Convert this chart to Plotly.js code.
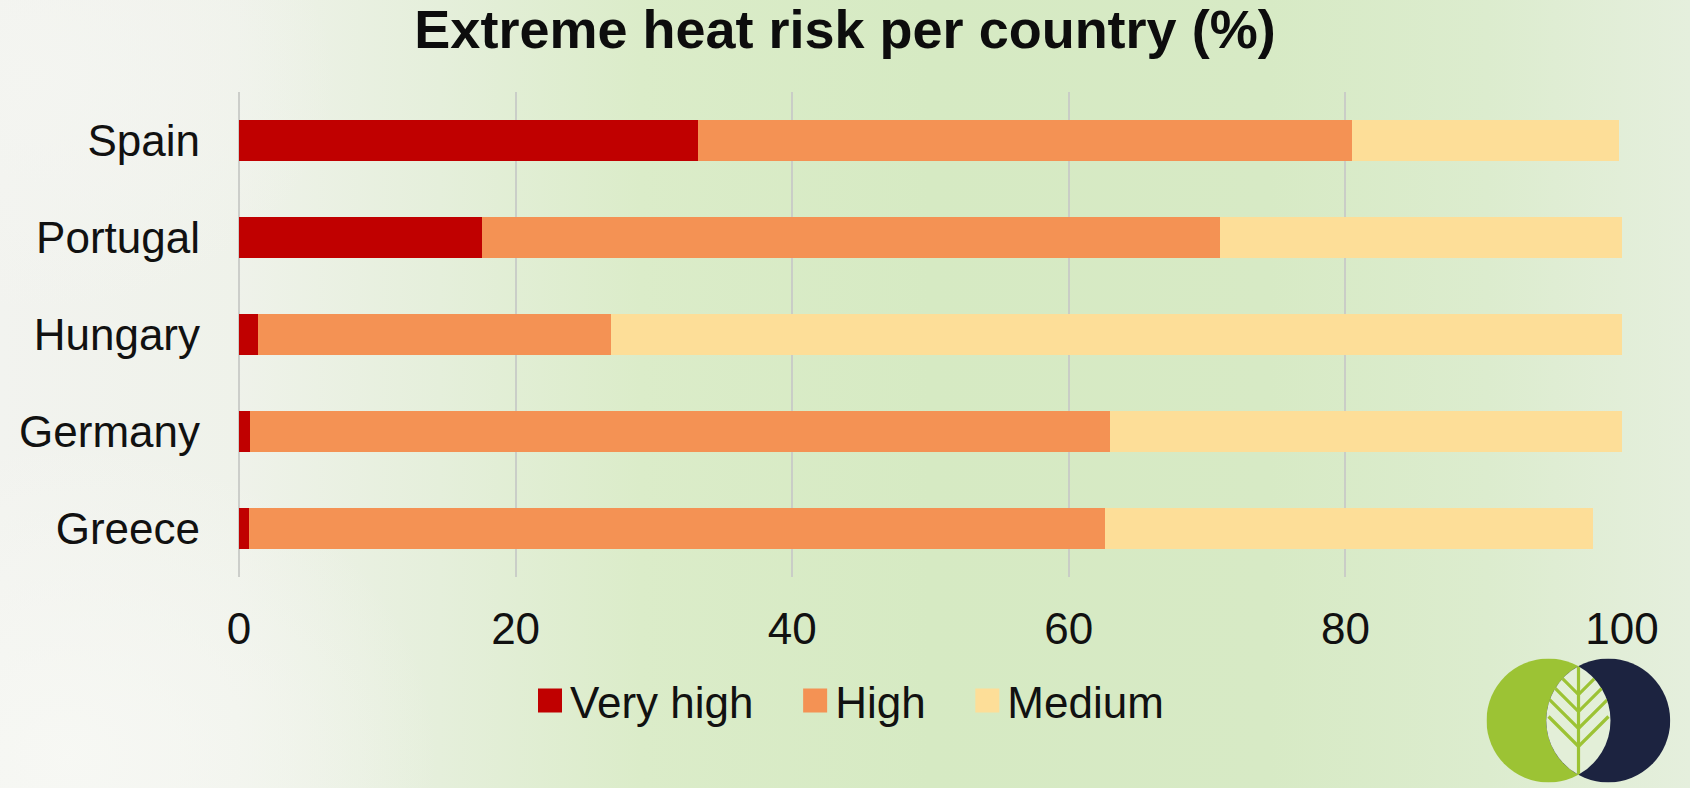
<!DOCTYPE html>
<html>
<head>
<meta charset="utf-8">
<script src="https://cdn.plot.ly/plotly-3.0.1.min.js"></script>
<style>
  html, body { margin: 0; padding: 0; }
  body {
    width: 1690px; height: 788px; overflow: hidden;
    background:
      radial-gradient(ellipse 22% 40% at 4% 96%, rgba(247,248,244,0.95) 0%, rgba(247,248,244,0) 100%),
      radial-gradient(ellipse 18% 30% at 2% 10%, rgba(244,245,241,0.9) 0%, rgba(244,245,241,0) 100%),
      linear-gradient(90deg, #f2f3ef 0%, #eff2ea 14%, #e5efdb 26%, #dbecc9 38%, #d6eac3 55%, #d7eac5 75%, #dcecce 88%, #e5efdd 100%);
  }
  #chart { width: 1690px; height: 788px; }
</style>
</head>
<body>
<div id="chart"></div>
<script>
const countries = ['Spain', 'Portugal', 'Hungary', 'Germany', 'Greece'];
const veryHigh = [33.2, 17.6, 1.4, 0.8, 0.7];
const high     = [47.3, 53.3, 25.5, 62.2, 61.9];
const medium   = [19.3, 29.1, 73.1, 37.0, 35.3];
const seriesNames = ['Very high', 'High', 'Medium'];
const xTicks = [0, 20, 40, 60, 80, 100];

const colors = ['#C00000', '#F49254', '#FDDE98'];
const nb = '\u00a0';

const traces = [veryHigh, high, medium].map((vals, i) => ({
  type: 'bar',
  orientation: 'h',
  y: countries,
  x: vals,
  name: seriesNames[i] + (i < 2 ? nb + nb + nb : ''),
  marker: { color: colors[i], line: { width: 0 } },
  hoverinfo: 'x+y'
}));

const logoSvg =
  '<svg xmlns="http://www.w3.org/2000/svg" width="184" height="124" viewBox="0 0 184 124">' +
  '<defs><clipPath id="lens"><path d="M91.85 7.66 A62 62 0 0 1 91.85 116.34 A62 62 0 0 1 91.85 7.66 Z"/></clipPath></defs>' +
  '<circle cx="62" cy="62" r="62" fill="#9CC334"/>' +
  '<circle cx="121.7" cy="62" r="62" fill="#1C2340"/>' +
  '<path d="M91.85 7.66 A62 62 0 0 1 91.85 116.34 A62 62 0 0 1 91.85 7.66 Z" fill="#E3EFD8"/>' +
  '<g clip-path="url(#lens)" stroke="#9CC334" stroke-width="3.2" fill="none">' +
  '<line x1="92" y1="0" x2="92" y2="124"/>' +
  '<polyline points="62,6 92,36 122,6"/>' +
  '<polyline points="62,23 92,53 122,23"/>' +
  '<polyline points="62,40 92,70 122,40"/>' +
  '<polyline points="62,58 92,88 122,58"/>' +
  '</g></svg>';

const plotL = 239.3, plotR = 1622.5, plotT = 91.6, plotB = 577.3;
const pw = plotR - plotL, ph = plotB - plotT;

const layout = {
  width: 1690,
  height: 788,
  margin: { l: plotL, r: 1690 - plotR, t: plotT, b: 788 - plotB, pad: 0 },
  paper_bgcolor: 'rgba(0,0,0,0)',
  plot_bgcolor: 'rgba(0,0,0,0)',
  font: { family: 'Arial, "Liberation Sans", sans-serif', color: '#111111', size: 44 },
  title: {
    text: '<b>Extreme heat risk per country (%)</b>',
    font: { size: 54, color: '#0d0d0d', family: 'Arial, "Liberation Sans", sans-serif' },
    x: 0.5, xanchor: 'center', xref: 'container',
    y: 1 - 29 / 788, yanchor: 'middle', yref: 'container'
  },
  barmode: 'stack',
  bargap: 0.57,
  xaxis: {
    range: [0, 100],
    tickvals: xTicks,
    ticktext: xTicks.map(String),
    showgrid: true,
    gridcolor: 'rgba(200,202,198,0.9)',
    gridwidth: 2,
    zeroline: true,
    zerolinecolor: 'rgba(200,202,198,0.9)',
    zerolinewidth: 2,
    showline: false,
    ticks: '',
    ticklabelstandoff: 22,
    tickfont: { size: 44, color: '#111111' },
    fixedrange: true
  },
  yaxis: {
    type: 'category',
    autorange: 'reversed',
    showgrid: false,
    zeroline: false,
    showline: false,
    ticks: '',
    ticklabelstandoff: 38,
    tickfont: { size: 44, color: '#111111' },
    fixedrange: true
  },
  showlegend: true,
  legend: {
    orientation: 'h',
    traceorder: 'normal',
    xref: 'container', yref: 'container',
    x: 530 / 1690, xanchor: 'left',
    y: 1 - 701 / 788, yanchor: 'middle',
    font: { size: 44, color: '#111111' },
    bgcolor: 'rgba(0,0,0,0)',
    borderwidth: 0
  },
  images: [{
    source: 'data:image/svg+xml;charset=utf-8,' + encodeURIComponent(logoSvg),
    xref: 'paper', yref: 'paper',
    x: (1487 - plotL) / pw,
    y: (plotB - 659) / ph,
    sizex: 184 / pw,
    sizey: 124 / ph,
    sizing: 'stretch',
    xanchor: 'left', yanchor: 'top',
    layer: 'above'
  }]
};

Plotly.newPlot('chart', traces, layout, { displayModeBar: false, staticPlot: true }).then(() => {
  document.querySelectorAll('.legendpoints path').forEach(p => {
    const t = p.getAttribute('transform') || '';
    p.setAttribute('transform', t + ' scale(2)');
  });
});
</script>
</body>
</html>
